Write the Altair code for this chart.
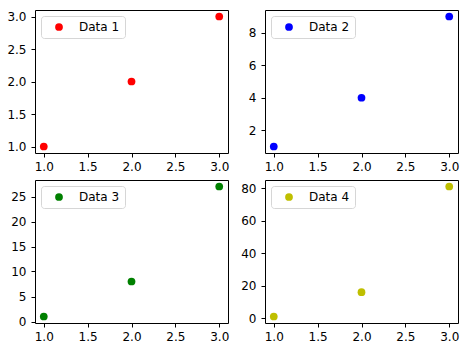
import altair as alt
import pandas as pd

x_vals = [1, 2, 3]
y_series = [
    [1, 2, 3],
    [1, 4, 9],
    [1, 8, 27],
    [1, 16, 81],
]
names = ["Data 1", "Data 2", "Data 3", "Data 4"]
colors = ["#ff0000", "#0000ff", "#008000", "#bfbf00"]
x_domain = [0.9, 3.1]
y_domains = [[0.9, 3.1], [0.6, 9.4], [-0.3, 28.3], [-3, 85]]
x_ticks = [1.0, 1.5, 2.0, 2.5, 3.0]
y_ticks = [
    [1.0, 1.5, 2.0, 2.5, 3.0],
    [2, 4, 6, 8],
    [0, 5, 10, 15, 20, 25],
    [0, 20, 40, 60, 80],
]
y_formats = [".1f", "d", "d", "d"]


def panel(ys, name, color, dom, ticks, fmt):
    df = pd.DataFrame({"x": x_vals, "y": ys, "series": [name] * len(x_vals)})
    return (
        alt.Chart(df)
        .mark_point(filled=True, opacity=1, size=60)
        .encode(
            x=alt.X(
                "x:Q",
                title=None,
                scale=alt.Scale(domain=x_domain, nice=False, zero=False),
                axis=alt.Axis(values=x_ticks, format=".1f"),
            ),
            y=alt.Y(
                "y:Q",
                title=None,
                scale=alt.Scale(domain=dom, nice=False, zero=False),
                axis=alt.Axis(values=ticks, format=fmt),
            ),
            color=alt.Color(
                "series:N",
                scale=alt.Scale(domain=[name], range=[color]),
                legend=alt.Legend(title=None),
            ),
        )
        .properties(width=193, height=143)
    )


panels = [
    panel(y_series[i], names[i], colors[i], y_domains[i], y_ticks[i], y_formats[i])
    for i in range(4)
]

chart = (
    alt.concat(*panels, columns=2, spacing={"row": 27, "column": 37}, bounds="flush")
    .resolve_scale(color="independent", x="independent", y="independent")
    .resolve_legend(color="independent")
    .properties(padding={"left": 4, "top": 9, "right": 0, "bottom": 0})
    .configure_view(stroke="black", strokeWidth=1)
    .configure_axis(
        labelFont="DejaVu Sans",
        labelFontSize=12,
        labelColor="black",
        tickColor="black",
        tickSize=4,
        grid=False,
        domain=False,
        labelPadding=4,
    )
    .configure_axisY(minExtent=30, maxExtent=30, labelPadding=5)
    .configure_axisX(minExtent=22, maxExtent=22)
    .configure_legend(
        orient="top-left",
        offset=6,
        padding=5,
        strokeColor="#d6d6d6",
        fillColor="white",
        cornerRadius=3,
        labelFont="DejaVu Sans",
        labelFontSize=12,
        labelColor="black",
        symbolType="circle",
        symbolSize=60,
        symbolOffset=7,
        labelOffset=14,
    )
)

chart.save("out.html", embed_options={"renderer": "svg", "actions": False})
